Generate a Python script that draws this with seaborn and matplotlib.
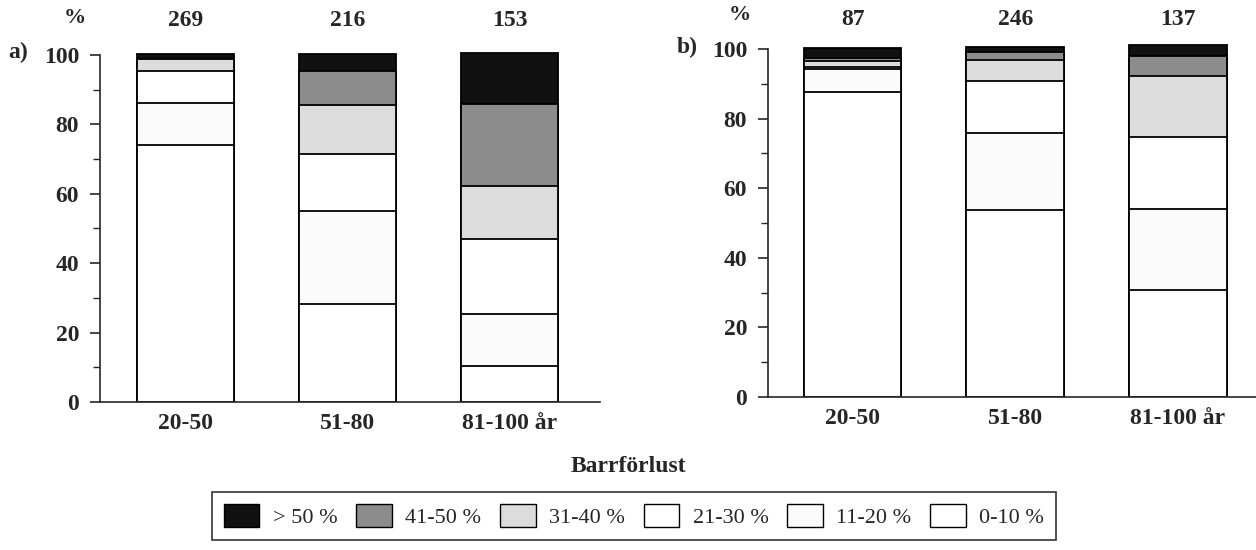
import matplotlib
matplotlib.use("Agg")
import matplotlib.pyplot as plt
from matplotlib.patches import Patch
import seaborn as sns
import pandas as pd
import numpy as np

sns.set_theme(style="ticks")
plt.rcParams['font.family'] = ['Liberation Serif', 'DejaVu Serif']
plt.rcParams['font.weight'] = 'bold'

age_classes = ["20-50", "51-80", "81-100 år"]
classes = ["0-10 %", "11-20 %", "21-30 %", "31-40 %", "41-50 %", "> 50 %"]  # bottom to top
colors = ["#ffffff", "#fbfbfb", "#ffffff", "#dcdcdc", "#8c8c8c", "#111111"]

counts_a = [269, 216, 153]
a_0_10 = [74.1, 28.2, 10.5]
a_11_20 = [12.1, 26.8, 15.0]
a_21_30 = [9.1, 16.6, 21.6]
a_31_40 = [3.4, 14.0, 15.0]
a_41_50 = [0.2, 9.9, 23.8]
a_gt50 = [1.3, 4.9, 14.8]

counts_b = [87, 246, 137]
b_0_10 = [87.5, 53.8, 30.7]
b_11_20 = [6.6, 22.0, 23.3]
b_21_30 = [0.7, 15.1, 20.8]
b_31_40 = [1.8, 6.0, 17.3]
b_41_50 = [0.7, 2.2, 5.8]
b_gt50 = [2.9, 1.6, 3.2]

fig = plt.figure(figsize=(12.56, 5.5), dpi=100)
ax_a = fig.add_axes([100/1256, 148/550, 500/1256, 354/550])
ax_b = fig.add_axes([768/1256, 153/550, 488/1256, 355/550])

def draw(ax, layers, counts, xlim, count_y):
    cum = np.cumsum(np.array(layers), axis=0)
    for i in range(len(classes) - 1, -1, -1):
        df = pd.DataFrame({"age": age_classes, "val": cum[i]})
        sns.barplot(data=df, x="age", y="val", ax=ax, color=colors[i],
                    saturation=1, width=0.6, edgecolor="black", linewidth=1.3,
                    order=age_classes)
    ax.set_ylim(0, 102)
    ax.set_xlim(*xlim)
    ax.set_yticks(np.arange(0, 101, 20))
    ax.set_yticks(np.arange(0, 101, 10), minor=True)
    ax.tick_params(axis='y', which='major', length=7, width=1.2, labelsize=17, pad=8)
    ax.tick_params(axis='y', which='minor', length=5, width=1.0)
    ax.tick_params(axis='x', length=0, labelsize=17, pad=8)
    for t in ax.get_yticklabels() + ax.get_xticklabels():
        t.set_fontweight('bold')
    ax.spines['top'].set_visible(False)
    ax.spines['right'].set_visible(False)
    ax.spines['left'].set_bounds(0, 100)
    ax.spines['left'].set_linewidth(1.2)
    ax.spines['bottom'].set_linewidth(1.2)
    ax.set_xlabel("")
    ax.set_ylabel("")
    ax.patch.set_alpha(0)
    for xi, c in enumerate(counts):
        ax.text(xi, count_y, str(c), ha='center', va='center', fontsize=17,
                fontweight='bold', clip_on=False)

draw(ax_a, [a_0_10, a_11_20, a_21_30, a_31_40, a_41_50, a_gt50], counts_a, (-0.53, 2.56), 110)
draw(ax_b, [b_0_10, b_11_20, b_21_30, b_31_40, b_41_50, b_gt50], counts_b, (-0.52, 2.48), 108.5)

fig.text(75/1256, 1 - 18/550, "%", ha='center', va='center', fontsize=16, fontweight='bold')
fig.text(18/1256, 1 - 52/550, "a)", ha='center', va='center', fontsize=17, fontweight='bold')
fig.text(740/1256, 1 - 15/550, "%", ha='center', va='center', fontsize=16, fontweight='bold')
fig.text(687/1256, 1 - 47/550, "b)", ha='center', va='center', fontsize=17, fontweight='bold')
fig.text(628/1256, 1 - 466/550, "Barrförlust", ha='center', va='center', fontsize=17, fontweight='bold')

handles = [Patch(facecolor=colors[i], edgecolor='black', linewidth=1.0, label=classes[i])
           for i in range(len(classes) - 1, -1, -1)]
leg = fig.legend(handles=handles, loc='center', bbox_to_anchor=(634/1256, 1 - 516/550),
                 ncol=6, frameon=True, fancybox=False, edgecolor='black',
                 prop={'family': 'Liberation Serif', 'size': 16, 'weight': 'normal'},
                 handlelength=1.6, handleheight=1.2, columnspacing=0.85, handletextpad=0.6,
                 borderpad=0.55)
leg.get_frame().set_linewidth(1.2)

fig.savefig("out.png", dpi=100, facecolor='white')
